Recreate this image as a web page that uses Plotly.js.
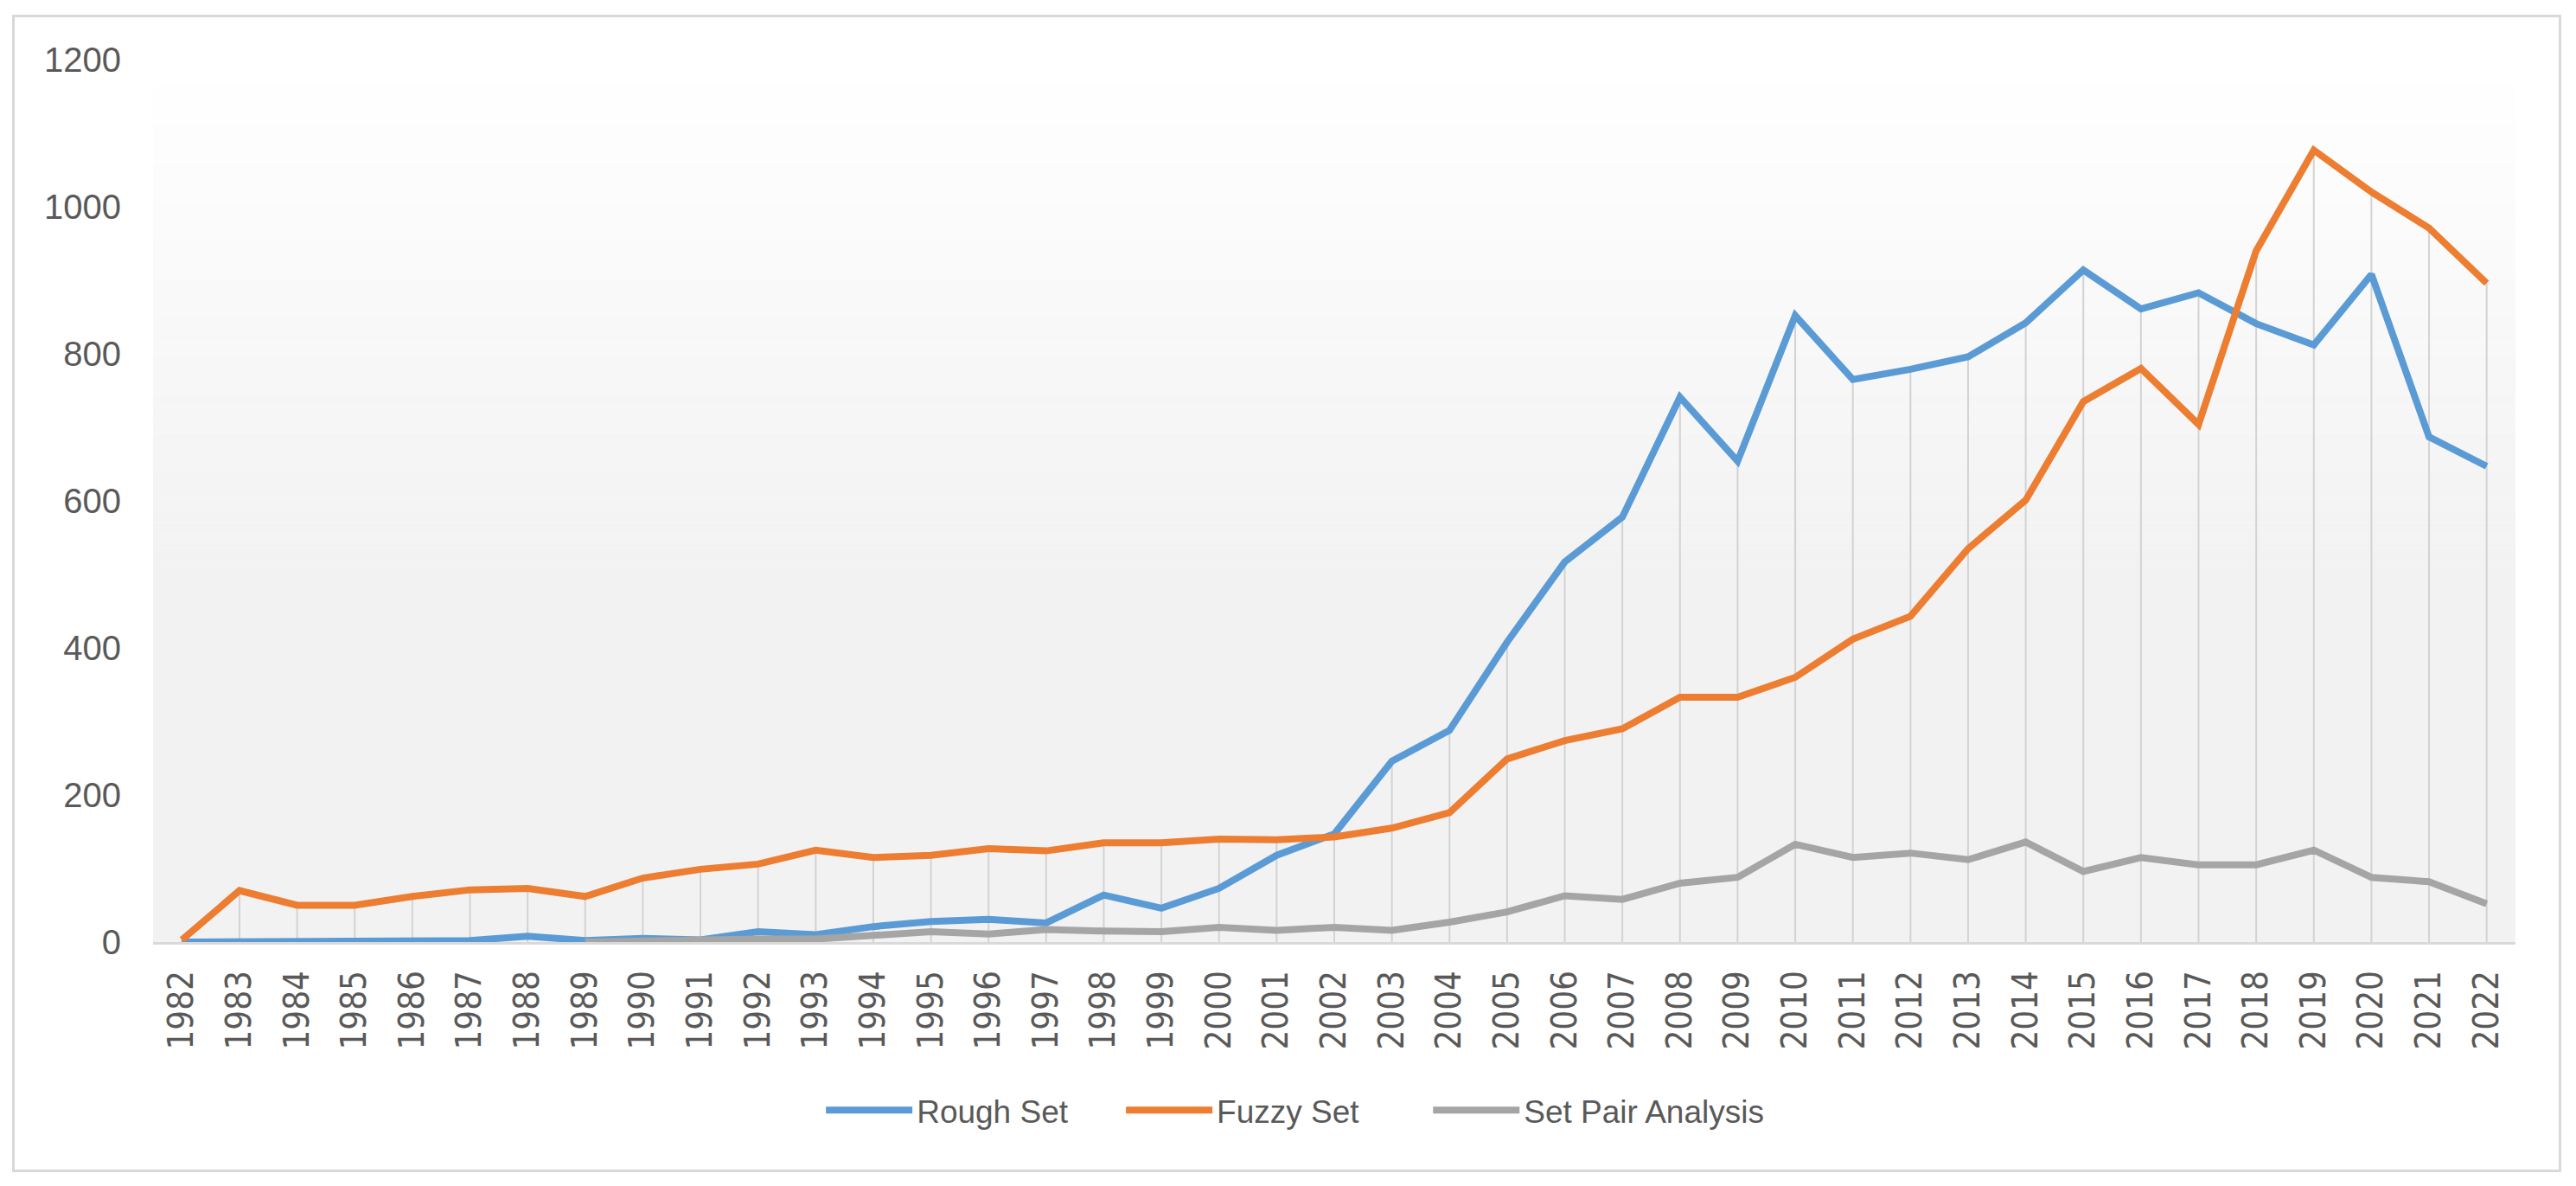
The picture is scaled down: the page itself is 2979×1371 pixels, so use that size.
<!DOCTYPE html>
<html>
<head>
<meta charset="utf-8">
<script src="https://cdn.plot.ly/plotly-3.0.1.min.js"></script>
<style>
  html, body { margin: 0; padding: 0; background: #ffffff; width: 2979px; height: 1371px; overflow: hidden; }
  #frame { position: absolute; left: 14px; top: 17px; width: 2942px; height: 1332px; border: 3px solid #d9d9d9; background: #ffffff; }
  #chart { width: 2942px; height: 1332px; }
</style>
</head>
<body>
<div id="frame"><div id="chart"></div></div>
<script>
const years = [1982,1983,1984,1985,1986,1987,1988,1989,1990,1991,1992,1993,1994,1995,1996,1997,1998,1999,2000,2001,2002,2003,2004,2005,2006,2007,2008,2009,2010,2011,2012,2013,2014,2015,2016,2017,2018,2019,2020,2021,2022];

const roughSet = [0,0,0,2,2,2,8,2,5,3,14,10,21,28,31,26,64,46,73,118,147,246,288,408,517,578,741,654,852,765,779,796,842,914,861,883,841,812,908,687,647];

const fuzzySet = [3,70,50,50,62,71,73,62,87,99,106,125,115,118,127,124,135,135,140,139,143,155,176,249,274,290,333,333,360,412,443,535,601,735,780,704,940,1077,1020,971,896];

const setPairAnalysis = [null,null,null,null,null,null,null,0,2,2,4,4,8,14,11,17,15,14,20,16,20,16,27,41,63,58,80,88,133,115,121,112,136,96,115,105,105,125,88,82,52];

const seriesNames = ['Rough Set','Fuzzy Set','Set Pair Analysis'];
const seriesColors = ['#5B9BD5','#ED7D31','#A5A5A5'];
const yTicks = [0,200,400,600,800,1000,1200];

// drop lines from the highest point of each category down to the axis
const dropX = [], dropY = [];
years.forEach((yr, i) => {
  const vals = [roughSet[i], fuzzySet[i], setPairAnalysis[i]].filter(v => v !== null);
  dropX.push(yr, yr, null);
  dropY.push(0, Math.max(...vals), null);
});

const traces = [
  { x: dropX, y: dropY, type: 'scatter', mode: 'lines', line: {color: '#d3d3d3', width: 2}, showlegend: false, hoverinfo: 'skip' },
  { x: years, y: roughSet, name: seriesNames[0], legend: 'legend', type: 'scatter', mode: 'lines', line: {color: seriesColors[0], width: 8} },
  { x: years, y: fuzzySet, name: seriesNames[1], legend: 'legend2', type: 'scatter', mode: 'lines', line: {color: seriesColors[1], width: 8} },
  { x: years, y: setPairAnalysis, name: seriesNames[2], legend: 'legend3', type: 'scatter', mode: 'lines', line: {color: seriesColors[2], width: 8} }
];

// vertical gradient of the plot area (white at top to light grey lower down)
const shapes = [];
const nBands = 40;
const gTop = 1200, gBottom = 500;
for (let i = 0; i < nBands; i++) {
  const y1 = gTop - (gTop - gBottom) * i / nBands;
  const y0 = gTop - (gTop - gBottom) * (i + 1) / nBands;
  const t = (i + 0.5) / nBands;
  const c = Math.round(255 - (255 - 242) * t);
  shapes.push({ type: 'rect', xref: 'paper', yref: 'y', x0: 0, x1: 1, y0: y0, y1: y1, fillcolor: `rgb(${c},${c},${c})`, line: {width: 0}, layer: 'below' });
}
shapes.push({ type: 'rect', xref: 'paper', yref: 'y', x0: 0, x1: 1, y0: 0, y1: gBottom, fillcolor: 'rgb(242,242,242)', line: {width: 0}, layer: 'below' });

const legendFont = {size: 37, color: '#595959', family: 'Liberation Sans, Arial, sans-serif'};
function legendAt(xp) {
  return { orientation: 'h', x: xp, xanchor: 'left', y: -0.191, yanchor: 'middle', font: legendFont, itemwidth: 100, bgcolor: 'rgba(0,0,0,0)', borderwidth: 0 };
}

const layout = {
  width: 2942, height: 1332,
  margin: {l: 160, r: 50, t: 49, b: 263},
  paper_bgcolor: '#ffffff',
  plot_bgcolor: '#ffffff',
  font: {family: 'Liberation Sans, Arial, sans-serif', color: '#595959'},
  showlegend: true,
  legend: legendAt(0.283),
  legend2: legendAt(0.410),
  legend3: legendAt(0.540),
  xaxis: {
    type: 'linear', range: [1981.5, 2022.5], tickmode: 'array', tickvals: years, ticktext: years.map(String),
    tickangle: -90, tickfont: {family: 'DejaVu Sans Condensed, Liberation Sans, sans-serif', size: 40, color: '#595959'},
    showgrid: false, zeroline: false, showline: true, linecolor: '#d9d9d9', linewidth: 3,
    ticks: '', ticklabelstandoff: 14
  },
  yaxis: {
    range: [0, 1200], tickmode: 'array', tickvals: yTicks, ticktext: yTicks.map(String),
    tickfont: {size: 40, color: '#595959', family: 'Liberation Sans, Arial, sans-serif'},
    showgrid: false, zeroline: false, showline: false, ticks: '', ticklabelstandoff: 36
  },
  shapes: shapes
};

Plotly.newPlot('chart', traces, layout, {displayModeBar: false, staticPlot: true});
</script>
</body>
</html>
